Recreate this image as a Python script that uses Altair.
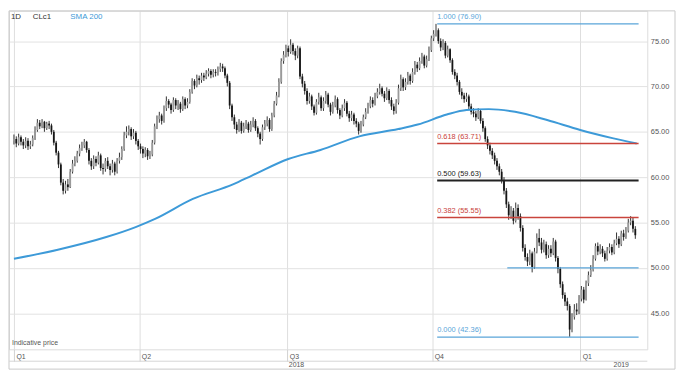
import altair as alt
import pandas as pd

# ---------------- data ----------------
first_open = 64.0
closes = [
    64.2, 63.7, 64.4, 63.9, 63.5, 64.0, 63.4, 63.6, 64.3, 65.2,
    66.0, 65.6, 66.1, 65.4, 65.9, 65.7, 65.0, 63.8, 62.7, 61.4,
    59.4, 58.5, 59.2, 58.9, 60.6, 61.5, 61.8, 62.6, 63.2, 63.5,
    63.9, 63.0, 61.8, 61.2, 62.0, 61.6, 62.4, 61.0, 60.9, 61.8,
    61.2, 60.8, 61.5, 60.6, 61.8, 62.2, 63.1, 64.6, 65.0, 65.3,
    64.5, 64.9, 64.0, 63.4, 63.1, 62.6, 63.0, 62.3, 62.5, 63.8,
    65.6, 66.4, 66.8, 66.2, 67.6, 68.4, 68.0, 67.4, 68.5, 67.9,
    68.1, 67.5, 68.6, 67.9, 68.3, 69.4, 70.6, 70.1, 70.9, 70.7,
    71.2, 71.0, 71.4, 71.7, 71.3, 71.6, 71.5, 71.9, 72.2, 72.0,
    71.2, 70.4, 67.9, 66.6, 65.8, 65.2, 66.0, 65.1, 65.6, 65.9,
    65.2, 65.8, 66.2, 65.4, 64.8, 64.2, 65.5, 65.9, 66.3, 65.3,
    66.8, 68.1, 69.0, 70.5, 72.8, 73.5, 74.2, 73.8, 74.6, 73.9,
    73.4, 74.2, 71.1, 70.3, 69.5, 68.4, 68.9, 67.8, 67.1, 68.3,
    68.8, 67.6, 68.4, 69.1, 68.0, 67.2, 67.9, 68.6, 67.4, 66.8,
    67.6, 68.2, 67.0, 66.5, 66.9, 66.2, 65.9, 65.1, 65.8, 66.6,
    67.2, 67.8, 68.5, 68.1, 68.9, 69.4, 69.8, 69.2, 68.7, 69.5,
    68.5, 67.8, 67.3, 68.2, 69.8, 70.8, 69.9, 70.5, 71.2, 70.6,
    71.6, 72.4, 72.0, 72.8, 73.3, 72.3, 73.0, 74.0, 75.3, 75.8,
    76.2, 75.0, 74.3, 74.8, 73.4, 74.1, 72.9, 71.6, 71.2, 70.5,
    69.4, 69.0, 68.6, 68.9, 67.8, 67.2, 67.0, 66.6, 67.3, 66.2,
    65.4, 64.2, 63.5, 62.9, 62.4, 61.8, 61.2, 60.6, 59.7, 58.5,
    57.0, 55.8, 56.3, 55.2, 56.6, 55.7, 54.4, 52.2, 51.2, 50.7,
    51.6, 50.1, 51.8, 53.3, 52.8, 52.0, 52.6, 51.4, 52.1, 51.6,
    52.9, 51.1, 49.9, 48.2, 47.0, 46.3, 45.8, 43.2, 44.6, 45.4,
    45.2, 46.6, 47.6, 46.5, 48.3, 49.2, 49.8, 51.0, 52.4, 51.8,
    52.1, 51.6, 51.0, 51.9, 52.3, 51.7, 52.7, 53.2, 52.6, 53.8,
    53.4, 54.1, 55.0, 55.2, 54.3, 53.6,
]
highs = [
    64.7, 64.5, 64.8, 64.6, 64.2, 64.4, 64.3, 64.0, 64.6, 65.6,
    66.4, 66.3, 66.4, 66.2, 66.1, 66.2, 65.9, 65.2, 64.0, 62.9,
    61.6, 59.8, 59.6, 59.8, 60.9, 61.9, 62.3, 62.9, 63.6, 63.9,
    64.2, 64.0, 63.2, 62.1, 62.4, 62.3, 62.8, 62.6, 61.5, 62.1,
    62.2, 61.5, 61.9, 61.7, 62.1, 62.7, 63.4, 65.0, 65.6, 65.7,
    65.5, 65.3, 65.1, 64.2, 63.7, 63.4, 63.3, 63.2, 62.9, 64.1,
    65.9, 66.8, 67.2, 67.0, 67.9, 68.9, 68.6, 68.2, 68.8, 68.7,
    68.5, 68.3, 68.9, 68.8, 68.7, 69.7, 70.9, 70.8, 71.3, 71.2,
    71.5, 71.5, 71.8, 72.0, 71.9, 71.9, 71.9, 72.2, 72.6, 72.5,
    72.2, 71.4, 70.6, 68.1, 66.9, 66.1, 66.4, 66.2, 66.0, 66.3,
    66.1, 66.2, 66.6, 66.4, 65.6, 65.0, 65.8, 66.3, 66.7, 66.5,
    67.1, 68.4, 69.4, 70.9, 73.1, 73.9, 74.6, 74.5, 75.2, 74.8,
    74.2, 74.5, 74.4, 71.4, 70.6, 69.8, 69.3, 69.1, 68.0, 68.6,
    69.3, 69.0, 68.8, 69.5, 69.3, 68.2, 68.3, 69.0, 68.8, 67.6,
    68.0, 68.6, 68.4, 67.3, 67.3, 67.1, 66.5, 66.1, 66.2, 66.9,
    67.6, 68.2, 68.9, 68.8, 69.3, 69.8, 70.3, 70.0, 69.5, 69.9,
    69.7, 68.8, 68.1, 68.6, 70.2, 71.3, 71.0, 70.9, 71.6, 71.4,
    72.0, 72.8, 72.7, 73.2, 73.7, 73.5, 73.4, 74.4, 75.6, 76.2,
    76.9, 76.4, 75.3, 75.2, 75.0, 74.5, 74.2, 73.1, 71.9, 71.5,
    70.7, 69.8, 69.3, 69.3, 69.1, 68.1, 67.6, 67.3, 67.6, 67.5,
    66.5, 65.6, 64.5, 63.8, 63.2, 62.7, 62.1, 61.5, 60.9, 60.0,
    58.8, 57.3, 56.8, 56.6, 57.2, 57.0, 56.0, 54.7, 52.6, 51.6,
    52.0, 51.8, 52.2, 53.8, 54.3, 53.3, 53.1, 52.9, 52.5, 52.5,
    53.3, 53.1, 51.3, 50.1, 48.5, 47.3, 46.7, 46.0, 45.0, 46.0,
    46.1, 47.0, 48.0, 47.9, 48.6, 49.6, 50.3, 51.4, 52.7, 52.8,
    52.6, 52.4, 51.9, 52.3, 52.7, 52.6, 53.1, 53.9, 53.5, 54.1,
    54.2, 54.5, 55.4, 55.7, 55.5, 54.6,
]
lows = [
    63.6, 63.3, 63.5, 63.5, 63.1, 63.2, 63.0, 63.1, 63.4, 64.1,
    65.0, 65.3, 65.4, 65.0, 65.2, 65.3, 64.7, 63.5, 62.4, 61.0,
    59.1, 58.1, 58.2, 58.5, 58.8, 60.4, 61.2, 61.6, 62.3, 62.9,
    63.2, 62.7, 61.4, 60.8, 60.9, 61.2, 61.4, 60.7, 60.3, 60.6,
    60.9, 60.2, 60.5, 60.2, 60.4, 61.5, 61.9, 62.9, 64.3, 64.6,
    64.1, 64.2, 63.6, 63.0, 62.6, 62.1, 62.2, 61.9, 62.0, 62.3,
    63.6, 65.3, 66.0, 65.8, 66.0, 67.3, 67.6, 67.0, 67.2, 67.5,
    67.4, 67.1, 67.3, 67.5, 67.6, 68.1, 69.2, 69.7, 69.9, 70.2,
    70.4, 70.6, 70.8, 71.1, 70.9, 71.0, 71.1, 71.2, 71.6, 71.6,
    70.9, 70.0, 67.5, 66.2, 65.3, 64.8, 65.0, 64.8, 64.9, 65.3,
    64.9, 65.0, 65.5, 65.1, 64.4, 63.6, 64.0, 65.2, 65.6, 65.0,
    65.1, 66.6, 67.9, 68.8, 70.3, 72.5, 73.2, 73.3, 73.6, 73.5,
    72.9, 73.1, 70.8, 69.9, 69.1, 68.0, 68.1, 67.4, 66.8, 66.9,
    68.0, 67.3, 67.3, 68.1, 67.7, 66.8, 67.0, 67.7, 67.0, 66.4,
    66.6, 67.3, 66.7, 66.1, 66.2, 65.8, 65.5, 64.7, 64.9, 65.6,
    66.4, 67.0, 67.6, 67.7, 67.9, 68.7, 69.1, 68.9, 68.3, 68.5,
    68.1, 67.4, 66.9, 67.0, 68.0, 69.5, 69.5, 69.6, 70.2, 70.2,
    70.4, 71.3, 71.6, 71.8, 72.5, 72.0, 72.1, 72.8, 73.8, 75.0,
    75.5, 74.7, 73.9, 74.0, 73.1, 73.2, 72.6, 71.3, 70.8, 70.1,
    69.1, 68.6, 68.2, 68.3, 67.5, 66.9, 66.6, 66.2, 66.4, 65.9,
    65.0, 63.9, 63.1, 62.5, 62.0, 61.4, 60.8, 60.2, 59.3, 58.1,
    56.6, 55.3, 55.4, 54.8, 55.0, 55.3, 54.0, 51.8, 50.8, 50.2,
    50.3, 49.5, 49.9, 51.6, 52.4, 51.6, 51.7, 51.0, 51.1, 51.2,
    51.4, 50.7, 49.4, 47.8, 46.6, 45.8, 45.3, 42.4, 42.9, 44.3,
    44.8, 44.9, 46.3, 46.1, 46.4, 48.0, 49.0, 49.6, 50.8, 51.4,
    51.5, 51.2, 50.7, 50.8, 51.6, 51.4, 51.5, 52.5, 52.2, 52.4,
    53.0, 53.2, 53.9, 54.7, 53.9, 53.2,
]

sma_idx = [0, 18.7, 39.4, 51.9, 60.2, 76.3, 93.4, 101.7, 117, 130.7, 147.3,
           163.9, 172.2, 184.6, 193, 202.5, 213.7, 227.4, 241.5, 255.2, 265.6]
sma_val = [51.0, 52.0, 53.4, 54.5, 55.4, 57.6, 59.2, 60.2, 62.0, 63.0, 64.5,
           65.3, 65.8, 66.9, 67.4, 67.5, 67.2, 66.3, 65.2, 64.3, 63.7]

fib_labels = ["1.000 (76.90)", "0.618 (63.71)", "0.500 (59.63)", "0.382 (55.55)", "0.000 (42.36)"]
fib_values = [76.90, 63.71, 59.63, 55.55, 42.36]
fib_colors = ["#5aa5d9", "#c9443c", "#222222", "#c9443c", "#5aa5d9"]
fib_start = 180.5
fib_end = 266.4
support_value = 50.0
support_start = 210.4

quarter_pos = [0, 53.5, 116.6, 178.4, 241.5]
quarter_labels = ["Q1", "Q2", "Q3", "Q4", "Q1"]
year_pos = [120.5, 259]
year_labels = ["2018", "2019"]
price_ticks = [45, 50, 55, 60, 65, 70, 75]

# ---------------- tables ----------------
opens = [first_open] + closes[:-1]
bars = pd.DataFrame({
    "i": list(range(len(closes))),
    "open": opens, "close": closes, "high": highs, "low": lows,
})
bars["dir"] = ["up" if c >= o else "down" for o, c in zip(opens, closes)]
sma = pd.DataFrame({"i": sma_idx, "sma": sma_val})
fib = pd.DataFrame({"label": fib_labels, "value": fib_values, "color": fib_colors,
                    "start": fib_start, "end": fib_end})
support = pd.DataFrame({"start": [support_start], "end": [fib_end], "value": [support_value]})
years = pd.DataFrame({"pos": year_pos, "label": year_labels})
one = pd.DataFrame({"a": [0]})

W, H = 645, 342
xs = alt.Scale(domain=[0, 268], nice=False, zero=False)
ys = alt.Scale(domain=[41.02, 78.33], nice=False, zero=False)

label_expr = "[" + ",".join("'%s'" % q for q in quarter_labels) + "][indexof([" + \
    ",".join(str(p) for p in quarter_pos) + "], datum.value)]"

x_axis = alt.Axis(values=quarter_pos, labelExpr=label_expr, grid=True, gridColor="#dedede",
                  ticks=True, tickSize=12, tickColor="#d0d0d0", domain=False,
                  labelAlign="left", labelOffset=2, labelBaseline="middle", labelPadding=-5,
                  labelFlush=False, labelOverlap=False, labelFontSize=7, labelColor="#555555",
                  title=None)
y_axis = alt.Axis(orient="right", values=price_ticks, format=".2f", grid=True,
                  gridColor="#e2e2e2", ticks=False, domain=False, labelPadding=3,
                  labelFontSize=7.5, labelColor="#555555", title=None)


def X(field):
    return alt.X(field, scale=xs, axis=x_axis)


def Y(field):
    return alt.Y(field, scale=ys, axis=y_axis)


base = alt.Chart(bars)
wicks = base.mark_rule(color="#333333", strokeWidth=1).encode(
    x=X("i:Q"), y=Y("low:Q"), y2="high:Q",
)
bodies = base.mark_bar(size=1.8).encode(
    x=X("i:Q"), y=Y("open:Q"), y2="close:Q",
    color=alt.Color("dir:N", scale=alt.Scale(domain=["up", "down"], range=["#9a9a9a", "#151515"]),
                    legend=None),
)

sma_line = alt.Chart(sma).mark_line(interpolate="monotone", strokeWidth=2, color="#3d9ad8").encode(
    x=X("i:Q"), y=Y("sma:Q"),
)

fib_rules = alt.Chart(fib).mark_rule().encode(
    x=X("start:Q"), x2="end:Q", y=Y("value:Q"),
    color=alt.Color("color:N", scale=None),
    strokeWidth=alt.condition(alt.datum.label == fib_labels[2], alt.value(2.2), alt.value(1.4)),
)
fib_text = alt.Chart(fib).mark_text(align="left", baseline="bottom", dy=-3, fontSize=7.5).encode(
    x=X("start:Q"), y=Y("value:Q"),
    text="label:N",
    color=alt.Color("color:N", scale=None),
)
support_rule = alt.Chart(support).mark_rule(color="#5aa5d9", strokeWidth=1.4).encode(
    x=X("start:Q"), x2="end:Q", y=Y("value:Q"),
)

year_text = alt.Chart(years).mark_text(fontSize=7, color="#555555", baseline="middle").encode(
    x=X("pos:Q"),
    y=alt.value(H + 16),
    text="label:N",
)

frame = alt.Chart(one).mark_rect(filled=False, stroke="#c8c8c8", strokeWidth=1).encode(
    x=alt.value(0), x2=alt.value(W + 28), y=alt.value(0), y2=alt.value(H + 20),
)
sep = alt.Chart(one).mark_rule(color="#d6d6d6", strokeWidth=1).encode(
    x=alt.value(0), x2=alt.value(W), y=alt.value(H + 12),
)


def note(txt, x, y, color="#333333", size=8):
    return alt.Chart(one).mark_text(text=txt, align="left", baseline="middle",
                                    fontSize=size, color=color).encode(
        x=alt.value(x), y=alt.value(y))


legend1 = note("1D", 2, 6)
legend2 = note("CLc1", 24, 6)
legend3 = note("SMA 200", 62, 6, color="#3d9ad8")
indicative = note("Indicative price", 3, H - 6, color="#555555", size=7)

chart = alt.layer(
    wicks, bodies, sma_line, fib_rules, support_rule, fib_text, year_text,
    frame, sep, legend1, legend2, legend3, indicative,
).properties(width=W, height=H, padding=0).configure_view(
    stroke="#c8c8c8"
).configure(font="Liberation Sans")

chart.save("out.html", embed_options={"renderer": "svg", "actions": False})
